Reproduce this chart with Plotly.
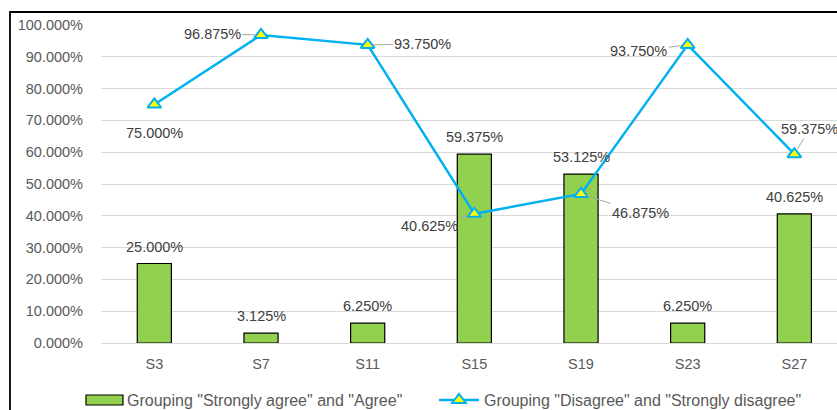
import plotly.graph_objects as go

categories = ["S3", "S7", "S11", "S15", "S19", "S23", "S27"]
agree = [0.25, 0.03125, 0.0625, 0.59375, 0.53125, 0.0625, 0.40625]
disagree = [0.75, 0.96875, 0.9375, 0.40625, 0.46875, 0.9375, 0.59375]
agree_name = 'Grouping "Strongly agree" and "Agree"'
disagree_name = 'Grouping "Disagree" and "Strongly disagree"'
yticks = [0, 0.1, 0.2, 0.3, 0.4, 0.5, 0.6, 0.7, 0.8, 0.9, 1.0]

# label offsets (pixels) for the line labels: (ax, ay, leader)
line_label_offsets = [(0, 28, False), (-49, -1, True), (55, -1, True), (-45, 12, True),
                      (59, 19, True), (-49, 6, True), (15, -25, True)]

W, H = 837, 410
ML, MR, MT, MB = 101, 0, 25, 67
PW = W - ML - MR
PH = H - MT - MB
step = 106.67
FONT = "Liberation Sans"
TXT = "#404040"
AX = "#595959"
FS = 14.5
LFS = 16

fig = go.Figure()
fig.add_trace(go.Bar(
    x=categories, y=agree, name=agree_name, width=0.32,
    marker=dict(color="#92D050", line=dict(color="#000000", width=1.2)),
    showlegend=False,
))
fig.add_trace(go.Scatter(
    x=categories, y=disagree, name=disagree_name, mode="lines+markers",
    line=dict(color="#00B0F0", width=2.5),
    marker=dict(symbol="triangle-up", size=12, color="#FFFF00",
                line=dict(color="#00B0F0", width=2)),
    cliponaxis=False,
    legend="legend",
))


def px_x(p):
    return (p - ML) / PW


def px_y(p):
    return 1 - (p - MT) / PH


annotations = []
for c, v in zip(categories, agree):
    annotations.append(dict(x=c, y=v, xref="x", yref="y", text=f"{v*100:.3f}%",
                            showarrow=False, yshift=17,
                            font=dict(family=FONT, size=FS, color=TXT)))
for c, v, (ax, ay, leader) in zip(categories, disagree, line_label_offsets):
    if leader:
        annotations.append(dict(x=c, y=v, xref="x", yref="y", text=f"{v*100:.3f}%",
                                showarrow=True, arrowhead=0, arrowwidth=1,
                                arrowcolor="#A6A6A6", ax=ax, ay=ay, standoff=6,
                                font=dict(family=FONT, size=FS, color=TXT)))
    else:
        annotations.append(dict(x=c, y=v, xref="x", yref="y", text=f"{v*100:.3f}%",
                                showarrow=False, xshift=ax, yshift=-ay,
                                font=dict(family=FONT, size=FS, color=TXT)))

# custom legend entry for the bar series
annotations.append(dict(x=px_x(125), y=px_y(400), xref="paper", yref="paper",
                        xanchor="left", yanchor="middle", showarrow=False,
                        text=agree_name, font=dict(family=FONT, size=LFS, color=AX)))

fig.update_layout(
    width=W, height=H,
    margin=dict(l=ML, r=MR, t=MT, b=MB, autoexpand=False),
    paper_bgcolor="white", plot_bgcolor="white",
    font=dict(family=FONT, size=FS, color=AX),
    showlegend=True,
    annotations=annotations,
    xaxis=dict(range=[-0.5, -0.5 + PW / step], showgrid=False, showline=False,
               ticks="", ticklabelstandoff=10,
               tickfont=dict(family=FONT, size=FS, color=AX),
               fixedrange=True),
    yaxis=dict(range=[0, 1.0], tickvals=yticks, tickformat=".3%",
               showgrid=True, gridcolor="#D9D9D9", gridwidth=1,
               zeroline=True, zerolinecolor="#D9D9D9", zerolinewidth=1,
               showline=False, ticks="", ticklabelstandoff=17,
               tickfont=dict(family=FONT, size=FS, color=AX)),
    legend=dict(orientation="h", x=px_x(434), y=px_y(400), xanchor="left", yanchor="middle",
                itemwidth=40,
                font=dict(family=FONT, size=LFS, color=AX),
                bgcolor="rgba(0,0,0,0)"),
    shapes=[
        dict(type="rect", xref="paper", yref="paper",
             x0=px_x(10), x1=px_x(W + 20), y0=px_y(H + 20), y1=px_y(12),
             line=dict(color="#000000", width=1.8), fillcolor="rgba(0,0,0,0)",
             layer="below"),
        dict(type="rect", xref="paper", yref="paper",
             x0=px_x(86), x1=px_x(123), y0=px_y(405), y1=px_y(395),
             line=dict(color="#000000", width=1.2), fillcolor="#92D050"),
    ],
)

fig.write_html("out.html", config={"displayModeBar": False},
               post_script="document.body.style.margin='0px';document.body.style.overflow='hidden';")
